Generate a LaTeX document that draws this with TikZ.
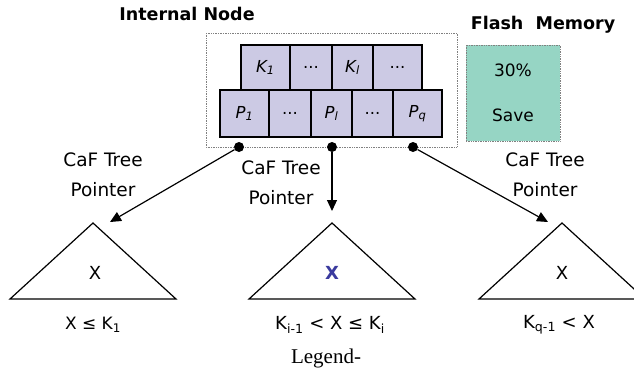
\documentclass[tikz,border=0pt]{standalone}
\usepackage{fontspec}
\setmainfont{DejaVu Sans}
\newfontfamily\legendfont{Liberation Serif}
\usetikzlibrary{arrows.meta}
\definecolor{cellfill}{RGB}{204,202,228}
\definecolor{flashfill}{RGB}{150,213,196}
\definecolor{xblue}{RGB}{58,58,158}
\newcommand{\keysub}[2]{{\itshape #1}\textsubscript{\itshape #2}}
\tikzset{
  cell/.style={draw,fill=cellfill,line width=1.2pt,inner sep=0pt,font=\fontsize{16.5}{18}\selectfont},
  dot/.style={circle,fill=black,inner sep=0pt,minimum size=10pt},
  ptr/.style={line width=1.2pt,-{Triangle[length=11pt,width=10pt]}},
  tree/.style={line width=1.2pt},
  lbl/.style={align=center,font=\fontsize{18.5}{30}\selectfont},
  title/.style={font=\bfseries\fontsize{17.5}{20}\selectfont}
}
\begin{document}
\begin{tikzpicture}[x=1pt,y=-1pt]
\useasboundingbox (0,0) rectangle (634,373);
%Internal node box and its keys and pointers
\draw[gray,densely dotted,line width=0.7pt] (206,33) rectangle (457,147);
\node[title] (inode) at (187,14) {Internal Node};
\node[cell,minimum width=49pt,minimum height=45pt] (k1) at (265.5,67.5) {\keysub{K}{1}};
\node[cell,minimum width=42pt,minimum height=45pt] (k2) at (311,67.5) {...};
\node[cell,minimum width=41pt,minimum height=45pt] (k3) at (352.5,67.5) {\keysub{K}{l}};
\node[cell,minimum width=49pt,minimum height=45pt] (k4) at (397.5,67.5) {...};
\node[cell,minimum width=49pt,minimum height=47pt] (p1) at (244.5,113.5) {\keysub{P}{1}};
\node[cell,minimum width=42pt,minimum height=47pt] (p2) at (290,113.5) {...};
\node[cell,minimum width=41pt,minimum height=47pt] (p3) at (331.5,113.5) {\keysub{P}{l}};
\node[cell,minimum width=41pt,minimum height=47pt] (p4) at (372.5,113.5) {...};
\node[cell,minimum width=49pt,minimum height=47pt] (p5) at (417.5,113.5) {\keysub{P}{q}};
%Flash memory
\node[title] (flash) at (543,25) {Flash\ \ Memory};
\node[draw=gray,densely dotted,fill=flashfill,line width=0.7pt,minimum width=94pt,minimum height=96pt,
      align=center,font=\fontsize{17}{45}\selectfont] (save) at (513,93) {30\%\\Save};
%Pointers to the subtrees
\node[dot] (d1) at (239,147) {};
\node[dot] (d2) at (332,147) {};
\node[dot] (d3) at (413,147) {};
\coordinate (a1) at (110,222);
\coordinate (a2) at (332,211);
\coordinate (a3) at (548,222);
\draw[ptr] (d1) -- (a1);
\draw[ptr] (d2) -- (a2);
\draw[ptr] (d3) -- (a3);
\node[lbl] (l1) at (103,175) {CaF Tree\\Pointer};
\node[lbl] (l2) at (281,183) {CaF Tree\\Pointer};
\node[lbl] (l3) at (545,175) {CaF Tree\\Pointer};
%Subtrees
\draw[tree] (93,223) -- (10,299) -- (176,299) -- cycle;
\draw[tree] (332,223) -- (249,299) -- (415,299) -- cycle;
\draw[tree] (562,223) -- (479,299) -- (645,299) -- cycle;
\node[font=\fontsize{18}{20}\selectfont] (x1) at (95,273) {X};
\node[font=\bfseries\fontsize{18}{20}\selectfont,text=xblue] (x2) at (332,273) {X};
\node[font=\fontsize{18}{20}\selectfont] (x3) at (562,273) {X};
\node[font=\fontsize{17}{20}\selectfont] (r1) at (93,325) {X ≤ K\textsubscript{1}};
\node[font=\fontsize{18}{20}\selectfont] (r2) at (330,325) {K\textsubscript{i-1} < X ≤ K\textsubscript{i}};
\node[font=\fontsize{18}{20}\selectfont] (r3) at (559,325) {K\textsubscript{q-1} < X};
\node[font=\legendfont\fontsize{21}{24}\selectfont] (legend) at (326,358) {Legend-};
\end{tikzpicture}
\end{document}
